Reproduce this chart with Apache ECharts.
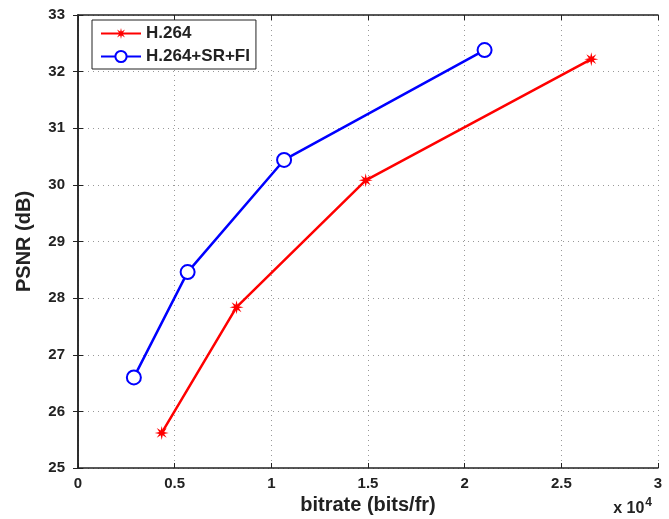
<!DOCTYPE html>
<html>
<head>
<meta charset="utf-8">
<script src="https://cdn.jsdelivr.net/npm/echarts@6/dist/echarts.min.js"></script>
<style>
  html, body { margin: 0; padding: 0; background: #fff; }
  #chart { width: 669px; height: 519px; }
</style>
</head>
<body>
<div id="chart"></div>
<script>
// bitrate in bits/frame, PSNR in dB
const h264Bitrate = [4330, 8200, 14880, 26550];
const h264Psnr = [25.62, 27.84, 30.08, 32.22];
const srfiBitrate = [2890, 5670, 10660, 21030];
const srfiPsnr = [26.60, 28.46, 30.44, 32.38];
const xTicks = [0, 0.5, 1, 1.5, 2, 2.5, 3];
const yTicks = [25, 26, 27, 28, 29, 30, 31, 32, 33];

const chart = echarts.init(document.getElementById('chart'));

// asterisk-like marker (8 spokes)
function starPath() {
	let d = '';
	for (let i = 0; i < 16; i++) {
		const r = i % 2 === 0 ? 10 : 3.8;
		const a = Math.PI * i / 8;
		const x = (10 + r * Math.sin(a)).toFixed(2);
		const y = (10 - r * Math.cos(a)).toFixed(2);
		d += (i === 0 ? 'M' : 'L') + x + ',' + y;
	}
	return 'path://' + d + 'Z';
}
const star = starPath();

const pairs = (xs, ys) => xs.map((x, i) => [x / 10000, ys[i]]);
const font = '"Liberation Sans", Arial, sans-serif';

const gridLine = { show: true, lineStyle: { color: '#999', type: [1, 4], width: 1 } };
const tick = { show: true, inside: true, length: 5, lineStyle: { color: '#222' } };
const axLine = { show: true, lineStyle: { color: '#222', width: 1.5 } };
const nameStyle = { fontFamily: font, fontWeight: 'bold', fontSize: 20, color: '#222' };
const labelStyle = { fontFamily: font, fontWeight: 'bold', fontSize: 15, color: '#222' };

const options = {
	animation: false,
	textStyle: { fontFamily: font },
	grid: { left: 78, right: 11, top: 15, bottom: 51, outerBoundsMode: 'none', containLabel: false },
	legend: {
		left: 92, top: 20,
		orient: 'vertical',
		backgroundColor: '#fff',
		borderColor: '#222', borderWidth: 1,
		padding: [5, 6, 4, 8],
		itemGap: 6,
		itemWidth: 40, itemHeight: 14,
		textStyle: { fontFamily: font, fontWeight: 'bold', fontSize: 17, color: '#222' },
		data: ['H.264', 'H.264+SR+FI']
	},
	xAxis: [{
		type: 'value', min: 0, max: 3, interval: 0.5,
		name: 'bitrate (bits/fr)', nameLocation: 'middle', nameGap: 24,
		nameTextStyle: nameStyle,
		axisLine: axLine, axisTick: tick, splitLine: gridLine,
		axisLabel: Object.assign({ margin: 8, formatter: v => xTicks.includes(v) ? String(v) : '' }, labelStyle)
	}, {
		type: 'value', min: 0, max: 3, interval: 0.5, position: 'top',
		axisLine: axLine, axisTick: tick, axisLabel: { show: false }, splitLine: { show: false }
	}],
	yAxis: [{
		type: 'value', min: 25, max: 33, interval: 1,
		name: 'PSNR (dB)', nameLocation: 'middle', nameGap: 44,
		nameTextStyle: nameStyle,
		axisLine: axLine, axisTick: tick, splitLine: gridLine,
		axisLabel: Object.assign({ margin: 13, formatter: v => yTicks.includes(v) ? String(v) : '' }, labelStyle)
	}, {
		type: 'value', min: 25, max: 33, interval: 1, position: 'right',
		axisLine: axLine, axisTick: tick, axisLabel: { show: false }, splitLine: { show: false }
	}],
	graphic: [{
		type: 'text', right: 17, bottom: 2,
		style: {
			text: 'x 10{sup|4}',
			font: 'bold 16px ' + font,
			fill: '#222',
			rich: { sup: { fontSize: 12, fontWeight: 'bold', fontFamily: font, verticalAlign: 'top', padding: [0, 0, 12, 1] } }
		}
	}],
	series: [{
		name: 'H.264', type: 'line',
		data: pairs(h264Bitrate, h264Psnr),
		symbol: star, symbolSize: 14,
		itemStyle: { color: '#ff0000' },
		lineStyle: { color: '#ff0000', width: 2.5 }
	}, {
		name: 'H.264+SR+FI', type: 'line',
		data: pairs(srfiBitrate, srfiPsnr),
		symbol: 'emptyCircle', symbolSize: 14,
		itemStyle: { color: '#0000ff', borderWidth: 2.5 },
		lineStyle: { color: '#0000ff', width: 2.5 }
	}]
};

chart.setOption(options);
</script>
</body>
</html>
